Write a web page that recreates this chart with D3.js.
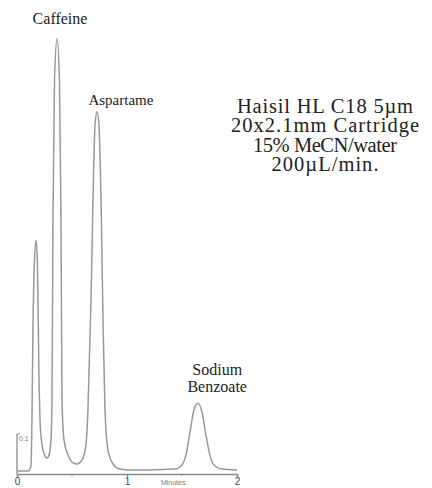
<!DOCTYPE html>
<html>
<head>
<meta charset="utf-8">
<script src="https://cdn.jsdelivr.net/npm/d3@7"></script>
<style>
	html, body { margin: 0; padding: 0; background: #fff; }
	svg { display: block; }
</style>
</head>
<body>
<svg id="chart"></svg>
<script>
/*
	Chromatogram: caffeine, aspartame and sodium benzoate
	trace values (time in minutes, absorbance in AU)
*/

var traceTime = [0, 0.10, 0.127, 0.136, 0.145, 0.159, 0.173, 0.186, 0.200, 0.209,
	0.227, 0.255, 0.273, 0.291, 0.309, 0.318, 0.327, 0.341, 0.364, 0.386,
	0.400, 0.409, 0.427, 0.464, 0.500, 0.545, 0.591, 0.627, 0.645, 0.673,
	0.691, 0.709, 0.727, 0.745, 0.764, 0.782, 0.800, 0.827, 0.873, 0.936,
	1.000, 1.209, 1.436, 1.491, 1.536, 1.573, 1.609, 1.645, 1.682, 1.718,
	1.755, 1.800, 1.864, 2.000];
var traceAbs = [0.005, 0.005, 0.018, 0.136, 0.367, 0.546, 0.597, 0.533, 0.238, 0.136,
	0.072, 0.044, 0.038, 0.046, 0.085, 0.187, 0.649, 1.008, 1.115, 1.008,
	0.649, 0.187, 0.085, 0.046, 0.028, 0.023, 0.033, 0.072, 0.162, 0.444,
	0.700, 0.892, 0.926, 0.892, 0.700, 0.392, 0.162, 0.059, 0.023, 0.010,
	0.008, 0.008, 0.010, 0.018, 0.046, 0.105, 0.162, 0.179, 0.156, 0.097,
	0.044, 0.018, 0.010, 0.008];

var peakNames = [['Caffeine'], ['Aspartame'], ['Sodium', 'Benzoate']];
var peakLabelTime = [0.391, 0.945, 1.82];

var xTicks = [0, 1, 2];
var xMinorTicks = [0.5, 1.5];
var scaleBarValue = 0.1;

var conditions = ['Haisil HL C18 5\u00b5m', '20x2.1mm Cartridge', '15% MeCN/water', '200\u00b5L/min.'];
var conditionWidths = [176, 188, 144, 107];

var width = 432, height = 488;

var svg = d3.select('#chart')
	.attr('width', width)
	.attr('height', height);

var x = d3.scaleLinear().domain([0, 2]).range([17, 237]);
var y = d3.scaleLinear().domain([0, 1.2]).range([473, 5]);

// the axis along the bottom
var axis = d3.axisBottom(x)
	.tickValues(xTicks)
	.tickFormat(d3.format('d'))
	.tickSize(3)
	.tickPadding(1);

var gAxis = svg.append('g')
	.attr('transform', 'translate(0,474)')
	.call(axis);
gAxis.select('.domain').attr('stroke', '#8c8c8c').attr('stroke-width', 1.5);
gAxis.selectAll('.tick line').attr('stroke', '#8c8c8c').attr('stroke-width', 1.2);
gAxis.selectAll('.tick text')
	.attr('fill', '#444')
	.style('font-family', 'Liberation Sans, Arial, sans-serif')
	.style('font-size', '10px');

gAxis.selectAll('.minor')
	.data(xMinorTicks)
	.enter().append('line')
	.attr('class', 'minor')
	.attr('x1', function(d){ return x(d); })
	.attr('x2', function(d){ return x(d); })
	.attr('y1', 0).attr('y2', 2)
	.attr('stroke', '#8c8c8c').attr('stroke-width', 1.2);

svg.append('text')
	.attr('x', x(1.42))
	.attr('y', 485)
	.attr('text-anchor', 'middle')
	.attr('fill', '#777')
	.style('font-family', 'Liberation Sans, Arial, sans-serif')
	.style('font-size', '7px')
	.text('Minutes');

// absorbance scale bar
svg.append('line')
	.attr('x1', x(0)).attr('x2', x(0))
	.attr('y1', y(0) + 1).attr('y2', y(scaleBarValue))
	.attr('stroke', '#8c8c8c').attr('stroke-width', 1.3);
svg.append('line')
	.attr('x1', x(0)).attr('x2', x(0) + 3)
	.attr('y1', y(scaleBarValue)).attr('y2', y(scaleBarValue))
	.attr('stroke', '#8c8c8c').attr('stroke-width', 1);
svg.append('text')
	.attr('x', x(0) + 2)
	.attr('y', y(scaleBarValue) + 7)
	.attr('fill', '#777')
	.style('font-family', 'Liberation Sans, Arial, sans-serif')
	.style('font-size', '7px')
	.text(scaleBarValue);

// the trace
var points = traceTime.map(function(t, i){ return [t, traceAbs[i]]; });
var line = d3.line()
	.x(function(d){ return x(d[0]); })
	.y(function(d){ return y(d[1]); })
	.curve(d3.curveMonotoneX);

svg.append('path')
	.datum(points)
	.attr('d', line)
	.attr('fill', 'none')
	.attr('stroke', '#999')
	.attr('stroke-width', 1.5);

// peak names
var labelTop = [24, 105, 375];
var labelSize = [16, 15, 16];
peakNames.forEach(function(lines, i){
	var t = svg.append('text')
		.attr('text-anchor', 'middle')
		.attr('fill', '#222')
		.style('font-family', 'Liberation Serif, Times New Roman, serif')
		.style('font-size', labelSize[i] + 'px');
	lines.forEach(function(s, j){
		t.append('tspan')
			.attr('x', x(peakLabelTime[i]))
			.attr('y', labelTop[i] + j * 17)
			.text(s);
	});
});

// run conditions
svg.selectAll('.cond')
	.data(conditions)
	.enter().append('text')
	.attr('class', 'cond')
	.attr('x', 325)
	.attr('y', function(d, i){ return 113 + i * 19.4; })
	.attr('text-anchor', 'middle')
	.attr('textLength', function(d, i){ return conditionWidths[i]; })
	.attr('lengthAdjust', 'spacing')
	.attr('fill', '#222')
	.style('font-family', 'Liberation Serif, Times New Roman, serif')
	.style('font-size', '20.5px')
	.text(function(d){ return d; });
</script>
</body>
</html>
